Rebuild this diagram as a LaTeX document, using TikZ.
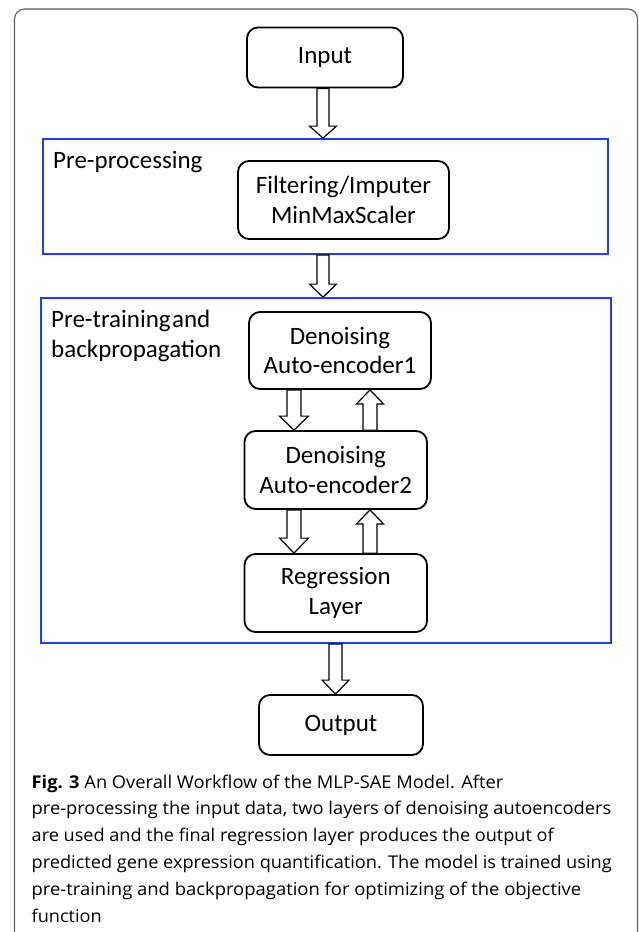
\documentclass[tikz,border=0pt]{standalone}
\usepackage{fontspec}
\usepackage{graphicx}
\setmainfont{Carlito}
\newfontfamily\capfont{Open Sans}
\usetikzlibrary{calc}
\definecolor{frameblue}{RGB}{30,60,250}
\definecolor{framegray}{RGB}{95,95,95}
\newcommand\capfit[2]{\resizebox{#1}{\height}{#2}}
\newcommand\hdown[6]{%
  \draw[hollow] let \p1=(#2), \p2=(#3) in
  (#1pt-#4pt,\y1) -- (#1pt-#4pt,\y2+#6pt) -- (#1pt-#5pt,\y2+#6pt) -- (#1pt,\y2)
  -- (#1pt+#5pt,\y2+#6pt) -- (#1pt+#4pt,\y2+#6pt) -- (#1pt+#4pt,\y1) -- cycle;}
\newcommand\hup[6]{%
  \draw[hollow] let \p1=(#2), \p2=(#3) in
  (#1pt-#4pt,\y1) -- (#1pt-#4pt,\y2-#6pt) -- (#1pt-#5pt,\y2-#6pt) -- (#1pt,\y2)
  -- (#1pt+#5pt,\y2-#6pt) -- (#1pt+#4pt,\y2-#6pt) -- (#1pt+#4pt,\y1) -- cycle;}
\begin{document}
\begin{tikzpicture}[x=1pt,y=-1pt,
  box/.style={draw=black, line width=1.8pt, rounded corners=11pt, align=center,
    inner sep=0pt, font=\fontsize{25}{29.5}\selectfont},
  group/.style={draw=frameblue, line width=1.8pt, inner sep=0pt},
  hollow/.style={draw=black, fill=white, line width=1.2pt, line join=miter},
  lbl/.style={anchor=base west, inner sep=0pt, font=\fontsize{25}{29.5}\selectfont},
  capline/.style={anchor=base west, inner sep=0pt, font=\capfont\fontsize{17.6}{26.6}\selectfont}]
\useasboundingbox (0,0) rectangle (639,932);
% outer frame
\draw[framegray, line width=1.1pt, rounded corners=10pt] (14.5,940) -- (14.5,9) -- (637.5,9) -- (637.5,940);
% groups
\node[group, minimum width=565pt, minimum height=115pt] (pre) at (325.5,196.5) {};
\node[group, minimum width=570pt, minimum height=345pt] (train) at (326.25,470.5) {};
\node[lbl] (prelbl) at (53,168) {Pre-processing};
\node[lbl] (trainlbl1) at (51,327) {Pre-training\hspace{1.5pt}and};
\node[lbl] (trainlbl2) at (51,357) {backpropagation};
% boxes
\node[box, minimum width=156pt, minimum height=60pt] (input) at (325,57.5) {Input};
\node[box, minimum width=211pt, minimum height=78pt] (filt) at (343.5,200) {Filtering/Imputer\\MinMaxScaler};
\node[box, minimum width=182pt, minimum height=77pt] (dae1) at (340,350.5) {Denoising\\Auto-encoder1};
\node[box, minimum width=182.5pt, minimum height=78pt] (dae2) at (335.75,470) {Denoising\\Auto-encoder2};
\node[box, minimum width=182.5pt, minimum height=78pt] (reg) at (335.75,593) {Regression\\Layer};
\node[box, minimum width=164pt, minimum height=60pt] (output) at (341,725) {Output};
% arrows
\hdown{323}{input.south}{pre.north}{6}{13.5}{12}
\hdown{323}{pre.south}{train.north}{6}{13.5}{13}
\hdown{294}{dae1.south}{dae2.north}{7}{14.5}{14}
\hup{370}{dae2.north}{dae1.south}{7}{13.5}{14}
\hdown{294}{dae2.south}{reg.north}{7}{14.5}{15}
\hup{370}{reg.north}{dae2.south}{7}{13.5}{14}
\hdown{335.5}{train.south}{output.north}{6.5}{13.5}{14}
% caption
\node[capline] (cap1) at (31.5,788) {\capfit{471.5pt}{\textbf{Fig. 3} An Overall Workflow of the MLP-SAE Model. After}};
\node[capline] (cap2) at (31.5,814.8) {\capfit{579.5pt}{pre-processing the input data, two layers of denoising autoencoders}};
\node[capline] (cap3) at (31.5,841.6) {\capfit{522pt}{are used and the final regression layer produces the output of}};
\node[capline] (cap4) at (31.5,868.4) {\capfit{580pt}{predicted gene expression quantification. The model is trained using}};
\node[capline] (cap5) at (31.5,895.2) {\capfit{549.5pt}{pre-training and backpropagation for optimizing of the objective}};
\node[capline] (cap6) at (31.5,922) {\capfit{70pt}{function}};
\end{tikzpicture}
\end{document}
